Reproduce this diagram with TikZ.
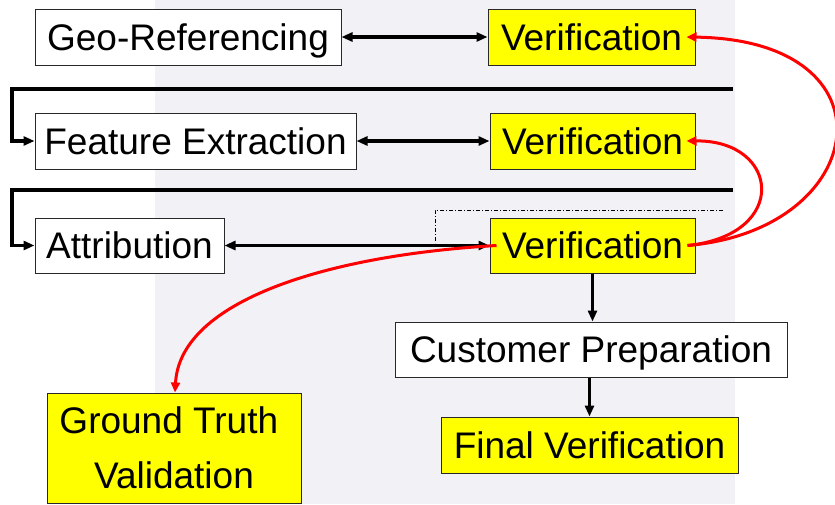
\documentclass[tikz,border=0pt]{standalone}
\usepackage{fontspec}
\setmainfont{Liberation Sans}
\usetikzlibrary{arrows.meta}
\definecolor{boxyellow}{RGB}{255,255,0}
\definecolor{boxedge}{RGB}{40,40,40}
\definecolor{redline}{RGB}{255,0,0}
\definecolor{photobg}{RGB}{242,242,246}
\begin{document}
\begin{tikzpicture}[x=1pt,y=-1pt,
  base/.style={draw=boxedge, line width=1pt, inner sep=0pt, font=\fontsize{37}{55}\selectfont, align=center},
  one/.style={text height=26.5pt, text depth=0pt},
  wbox/.style={base, fill=white},
  ybox/.style={base, fill=boxyellow},
  tip/.style={-{Triangle[length=11pt,width=9pt]}},
  dtip/.style={{Triangle[length=11pt,width=9pt]}-{Triangle[length=11pt,width=9pt]}},
  conn/.style={line width=3.2pt, black},
  fb/.style={line width=3.2pt, black},
  redc/.style={line width=3pt, redline, -{Triangle[length=10pt,width=9pt]}},
  dd/.style={line width=0.8pt, black, dash pattern=on 4pt off 2pt on 1pt off 2pt}]
\useasboundingbox (0,0) rectangle (835,504);
\fill[photobg] (155,0) rectangle (735,504);
% nodes
\node[wbox, one, minimum width=306pt, minimum height=56pt] (geo) at (188,37) {Geo-Referencing};
\node[ybox, one, minimum width=207pt, minimum height=56pt] (v1) at (591.5,37) {Verification};
\node[wbox, one, minimum width=321pt, minimum height=56pt] (feat) at (195.5,141) {Feature Extraction};
\node[ybox, one, minimum width=205pt, minimum height=56pt] (v2) at (592.5,141) {Verification};
\node[wbox, one, minimum width=189pt, minimum height=55pt] (attr) at (129.5,245.5) {Attribution};
\node[ybox, one, minimum width=205pt, minimum height=55pt] (v3) at (592.5,245.5) {Verification};
\node[wbox, one, minimum width=392pt, minimum height=55pt] (cust) at (591,349.5) {Customer Preparation};
\node[ybox, one, minimum width=297pt, minimum height=56pt] (fin) at (589.5,445) {Final Verification};
\node[ybox, minimum width=254pt, minimum height=110pt] (gt) at (174,448) {Ground Truth\hspace*{0.28em}\\Validation};
% coordinates for free ends
\coordinate (fb1) at (733,89);
\coordinate (fb1c) at (12,89);
\coordinate (fb2) at (733,190);
\coordinate (fb2c) at (12,190);
\coordinate (dd1) at (723,210);
\coordinate (dd2) at (435,210);
\coordinate (dd3) at (435,243);
% double arrows
\draw[conn, dtip] (geo.east) -- (v1.west);
\draw[conn, dtip] (feat.east) -- (v2.west);
\draw[conn, dtip] (attr.east) -- (v3.west);
% feedback lines
\draw[fb, tip] (fb1) -- (fb1c) |- (feat.west);
\draw[fb, tip] (fb2) -- (fb2c) |- (attr.west);
% dash-dot
\draw[dd] (dd1) -- (dd2) -- (dd3);
% down arrows
\draw[conn, tip] (v3.south) -- (v3.south |- cust.north);
\draw[conn, tip] (fin.north |- cust.south) -- (fin.north);
% red curves
\coordinate (v3r) at ([xshift=-8pt]v3.east);
\coordinate (v3l) at ([xshift=7pt]v3.west);
\draw[redc] (v3r) .. controls (870,230) and (900,40) .. ([xshift=-9pt]v1.east);
\draw[redc] (v3r) .. controls (790,235) and (780,140) .. ([xshift=-9pt]v2.east);
\draw[redc] (v3l) .. controls (330,255) and (180,300) .. ([xshift=1pt]gt.north);
\end{tikzpicture}
\end{document}
